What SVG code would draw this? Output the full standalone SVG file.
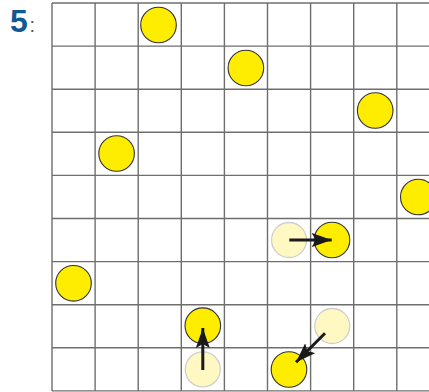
<svg xmlns="http://www.w3.org/2000/svg" width="429" height="392" viewBox="0 0 429 392">
<style>
.grid line{stroke:#6e6e6e;stroke-width:1.4}
.on{fill:#ffed00;stroke:#333;stroke-width:1.1}
.ghost{fill:#fff8c2;stroke:#cfcfcf;stroke-width:1.3}
.arr{stroke:#1a1a1a;stroke-width:3;fill:none;marker-end:url(#ah)}
</style>
<defs>
<marker id="ah" viewBox="0 0 20 14" refX="20" refY="7" markerWidth="20" markerHeight="14" markerUnits="userSpaceOnUse" orient="auto">
<path d="M0,0 L20,7 L0,14 L4,7 Z" fill="#1a1a1a"/>
</marker>
</defs>
<rect width="429" height="392" fill="#fff"/>
<g id="label">
<text x="10" y="31.7" font-family="Liberation Sans, Arial, sans-serif" font-weight="bold" font-size="32" fill="#0f5a95">5</text>
<text x="29.5" y="31.7" font-family="Liberation Sans, Arial, sans-serif" font-size="20" fill="#555">:</text>
</g>
<g id="grid" class="grid">
<line x1="52" y1="3" x2="52" y2="391"/>
<line x1="95.1" y1="3" x2="95.1" y2="391"/>
<line x1="138.2" y1="3" x2="138.2" y2="391"/>
<line x1="181.3" y1="3" x2="181.3" y2="391"/>
<line x1="224.4" y1="3" x2="224.4" y2="391"/>
<line x1="267.5" y1="3" x2="267.5" y2="391"/>
<line x1="310.6" y1="3" x2="310.6" y2="391"/>
<line x1="353.7" y1="3" x2="353.7" y2="391"/>
<line x1="396.8" y1="3" x2="396.8" y2="391"/>
<line x1="52" y1="3" x2="429" y2="3"/>
<line x1="52" y1="46.1" x2="429" y2="46.1"/>
<line x1="52" y1="89.2" x2="429" y2="89.2"/>
<line x1="52" y1="132.3" x2="429" y2="132.3"/>
<line x1="52" y1="175.4" x2="429" y2="175.4"/>
<line x1="52" y1="218.5" x2="429" y2="218.5"/>
<line x1="52" y1="261.6" x2="429" y2="261.6"/>
<line x1="52" y1="304.7" x2="429" y2="304.7"/>
<line x1="52" y1="347.8" x2="429" y2="347.8"/>
<line x1="52" y1="390.9" x2="429" y2="390.9"/>
</g>
<g id="ghosts">
<circle id="g1" class="ghost" cx="289" cy="240" r="17.5"/>
<circle id="g2" class="ghost" cx="332.3" cy="326" r="17.5"/>
<circle id="g3" class="ghost" cx="202.8" cy="369.4" r="17.5"/>
</g>
<g id="stones">
<circle id="s1" class="on" cx="158.5" cy="25" r="17.8"/>
<circle id="s2" class="on" cx="245.9" cy="68" r="17.8"/>
<circle id="s3" class="on" cx="375.2" cy="110.5" r="17.8"/>
<circle id="s4" class="on" cx="116.6" cy="153.5" r="17.8"/>
<circle id="s5" class="on" cx="418.3" cy="197" r="17.8"/>
<circle id="s6" class="on" cx="332" cy="240" r="17.8"/>
<circle id="s7" class="on" cx="73.5" cy="283.3" r="17.8"/>
<circle id="s8" class="on" cx="202.8" cy="325.7" r="17.8"/>
<circle id="s9" class="on" cx="289" cy="369.5" r="17.8"/>
</g>
<g id="connectors">
<line class="arr" x1="289.3" y1="240" x2="331.7" y2="240"/>
<line class="arr" x1="202.8" y1="370" x2="202.8" y2="328"/>
<line class="arr" x1="325" y1="333.3" x2="296" y2="362.3"/>
</g>
</svg>
